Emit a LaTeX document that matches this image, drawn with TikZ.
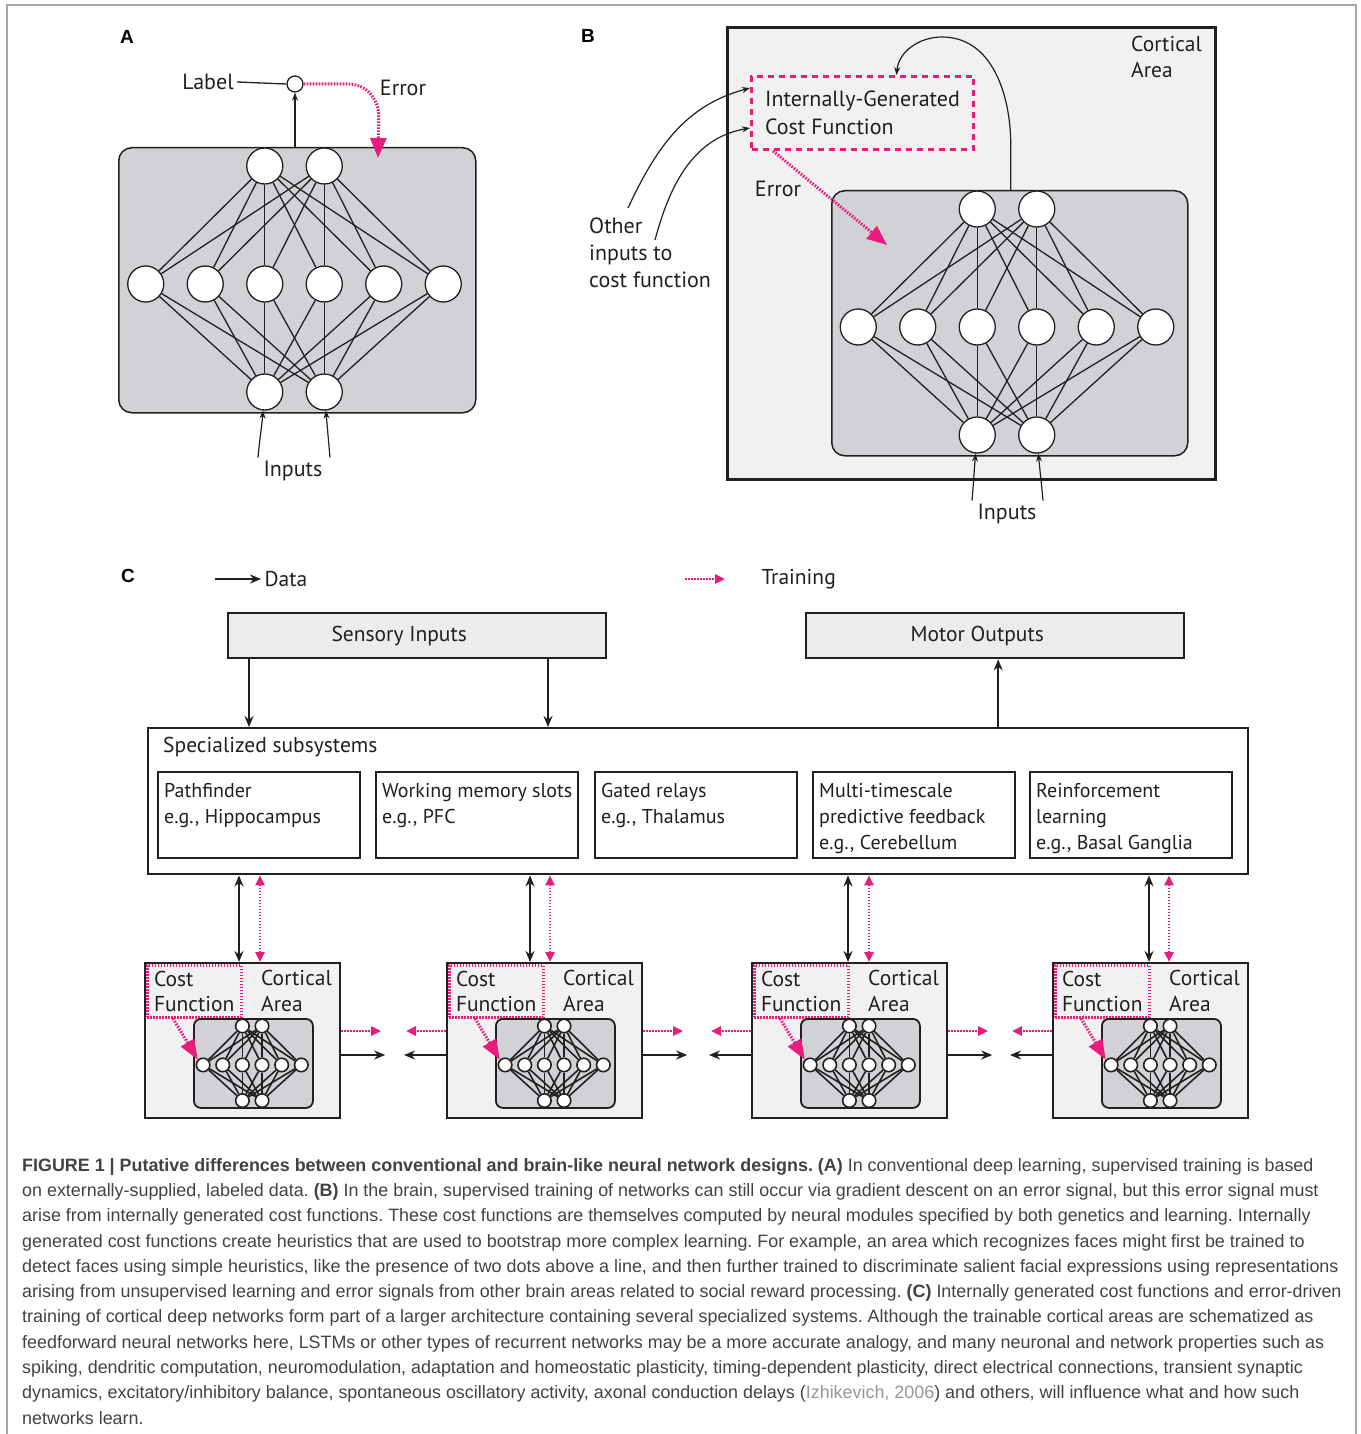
\documentclass[tikz,border=0pt]{standalone}
\usepackage{fontspec}
\setmainfont{PT Sans}
\newfontfamily\capfont{Liberation Sans}
\usetikzlibrary{arrows.meta,positioning}

\definecolor{errpink}{RGB}{232,28,122}
\definecolor{netgray}{RGB}{208,210,213}
\definecolor{areagray}{RGB}{241,241,242}
\definecolor{boxgray}{RGB}{236,236,236}
\definecolor{capgray}{RGB}{66,66,66}
\definecolor{refgray}{RGB}{150,150,150}
\definecolor{inkblack}{RGB}{35,31,32}

% feedforward net: name, x, y (top pair), scale, node size, line width
\newcommand{\netwk}[6]{%
  \foreach \i in {1,2}
    \node[neuron, minimum size=#5, line width=#6] (#1t\i) at ({#2+(\i-1.5)*59.5*#4},#3) {};
  \foreach \i in {1,...,6}
    \node[neuron, minimum size=#5, line width=#6] (#1m\i) at ({#2+(\i-3.5)*59.5*#4},{#3+118*#4}) {};
  \foreach \i in {1,2}
    \node[neuron, minimum size=#5, line width=#6] (#1b\i) at ({#2+(\i-1.5)*59.5*#4},{#3+226*#4}) {};
  \foreach \i in {1,2}
    \foreach \j in {1,...,6} {
      \draw[netline, line width=#6] (#1t\i) -- (#1m\j);
      \draw[netline, line width=#6] (#1m\j) -- (#1b\i);
    }
}

\begin{document}
\frenchspacing
\begin{tikzpicture}[x=1pt, y=-1pt, every node/.style={text=inkblack, font=\fontsize{22}{27}\selectfont}]
    \tikzstyle{neuron}=[circle, draw=inkblack, fill=white, inner sep=0pt]
    \tikzstyle{netline}=[draw=inkblack]
    \tikzstyle{netbox}=[rectangle, rounded corners=13pt, draw=inkblack, fill=netgray, line width=1.5pt]
    \tikzstyle{areabox}=[rectangle, draw=inkblack, fill=areagray]
    \tikzstyle{sysbox}=[rectangle, draw=inkblack, line width=2.4pt, font=\fontsize{21.5}{26}\selectfont]
    \tikzstyle{subtext}=[align=left, anchor=north west, inner sep=0pt, font=\fontsize{20}{26}\selectfont]
    \tikzstyle{smalltext}=[align=left, anchor=north west, inner sep=0pt, font=\fontsize{21.5}{25.5}\selectfont]
    \tikzstyle{costdash}=[rectangle, draw=errpink, line width=3pt, dash pattern=on 6pt off 5pt]
    \tikzstyle{costdot}=[rectangle, draw=errpink, line width=2.5pt, dash pattern=on 1.6pt off 1.4pt]
    \tikzstyle{errline}=[draw=errpink, line width=3pt, dash pattern=on 1.6pt off 1.4pt]
    \tikzstyle{dataarrow}=[draw=inkblack, line width=2pt, >={Stealth[length=11pt,width=9pt]}, ->]
    \tikzstyle{trainarrow}=[draw=errpink, line width=2.6pt, dash pattern=on 1.6pt off 1.4pt, >={Triangle[length=10pt,width=9pt]}, ->]
    \tikzstyle{thinarrow}=[draw=inkblack, line width=1.2pt, -{Stealth[length=8pt,width=6pt]}]
    \tikzstyle{panel}=[font=\capfont\bfseries\fontsize{19}{19}\selectfont, text=black]

    \useasboundingbox (0,0) rectangle (1360,1434);
    \draw[gray!70, line width=1.5pt] (7,1440) -- (7,5) -- (1356,5) -- (1356,1440);

    % A
    \node[panel] (la) at (127,37) {A};
    \node[netbox, minimum width=357, minimum height=265, anchor=north west] (boxA) at (118,147) {};
    \netwk{a-}{294.5}{166}{1}{36pt}{1.3pt}
    \node[neuron, minimum size=16pt, line width=1.3pt] (cmp) at (295,84) {};
    \node (lab) at (208,82) {Label};
    \draw[line width=1.3pt, inkblack] (lab.east) -- (cmp.west);
    \draw[thinarrow] (cmp |- boxA.north) -- (cmp.south);
    \node (errA) at (403,88) {Error};
    \coordinate (errtipA) at (378,158);
    \draw[errline, -{Triangle[length=20pt,width=16pt]}] (cmp.east) -- ++(45,0) to[out=0,in=90] ++(30,32) -- (errtipA);
    \node (inA) at (293,471) {Inputs};
    \draw[thinarrow] ([xshift=-35pt]inA.north) to[out=85,in=-95] (a-b1);
    \draw[thinarrow] ([xshift=37pt]inA.north) to[out=95,in=-85] (a-b2);

    % B
    \node[panel] (lb) at (588,36) {B};
    \node[areabox, line width=3pt, minimum width=488, minimum height=452, anchor=north west] (cortB) at (726,26) {};
    \node[align=left, anchor=north west, inner sep=0pt, font=\fontsize{21.5}{26}\selectfont] (ctxB) at (1131,36) {Cortical\\Area};
    \node[costdash, minimum width=222, minimum height=73, align=left, anchor=north west, font=\fontsize{22}{28}\selectfont] (cfB) at (750,75) {Internally-Generated\\Cost Function};
    \node[netbox, minimum width=356, minimum height=265, anchor=north west] (boxB) at (831,190) {};
    \netwk{b-}{1007}{209}{1}{36pt}{1.3pt}
    \node (errB) at (778,189) {Error};
    \coordinate (errtipB) at (887,245);
    \draw[errline, -{Triangle[length=20pt,width=16pt]}] ([xshift=23pt]cfB.south west) -- (errtipB);
    \draw[thinarrow] ([xshift=1pt]boxB.north) -- ++(0,-45) to[out=90,in=0] (942,37) to[out=180,in=85] ([xshift=34pt]cfB.north);
    \node[align=left, anchor=north west, inner sep=0pt] (oth) at (589,218) {Other\\inputs to\\cost function};
    \draw[thinarrow] ([shift={(39,-10)}]oth.north west) to[out=65,in=195] ([yshift=-13pt]cfB.north west);
    \draw[thinarrow] ([shift={(66,22)}]oth.north west) to[out=75,in=190] ([yshift=-53pt]cfB.north west);
    \node (inB) at (1007,514) {Inputs};
    \draw[thinarrow] ([xshift=-35pt]inB.north) to[out=85,in=-95] (b-b1);
    \draw[thinarrow] ([xshift=36pt]inB.north) to[out=95,in=-85] (b-b2);

    % C
    \node[panel] (lc) at (128,576) {C};
    \node[anchor=west, font=\fontsize{21.5}{26}\selectfont] (data) at (261,579) {Data};
    \draw[dataarrow] ([xshift=-46pt]data.west) -- (data.west);
    \node[anchor=west, font=\fontsize{21.5}{26}\selectfont] (train) at (758,579) {Training};
    \draw[trainarrow] ([xshift=-73pt]train.west) -- ([xshift=-33pt]train.west);

    \node[sysbox, fill=boxgray, minimum width=378, minimum height=45, anchor=north west] (sens) at (227,612) {Sensory Inputs\kern36pt};
    \node[sysbox, fill=boxgray, minimum width=378, minimum height=45, anchor=north west] (mot) at (805,612) {Motor Outputs\kern36pt};
    \node[sysbox, fill=white, minimum width=1100, minimum height=146, anchor=north west] (spec) at (147,727) {};
    \node[anchor=west, inner sep=0pt, font=\fontsize{21.5}{26}\selectfont] (spect) at (163,747) {Specialized subsystems};
    \foreach \n/\x/\t in {1/157/{Pathfinder\\e.g., Hippocampus},
                          2/375/{Working memory slots\\e.g., PFC},
                          3/594/{Gated relays\\e.g., Thalamus},
                          4/812/{Multi-timescale\\predictive feedback\\e.g., Cerebellum},
                          5/1029/{Reinforcement\\learning\\e.g., Basal Ganglia}} {
        \node[sysbox, minimum width=202, minimum height=86, anchor=north west] (sub\n) at (\x,771) {};
        \node[subtext] (subt\n) at ([shift={(7,12)}]sub\n.north west) {\t};
    }
    \path ([xshift=22pt]sens.south west) coordinate (sa) ([xshift=321pt]sens.south west) coordinate (sb) ([xshift=3pt]mot.south) coordinate (ma);
    \draw[dataarrow] (sa) -- (sa |- spec.north);
    \draw[dataarrow] (sb) -- (sb |- spec.north);
    \draw[dataarrow] (ma |- spec.north) -- (ma);

    \foreach \k/\x/\bx/\px in {1/144/95/116, 2/446/84/104, 3/751/97/118, 4/1052/97/117} {
        \node[areabox, line width=2.2pt, minimum width=195, minimum height=155, anchor=north west] (ca\k) at (\x,962) {};
        \node[costdot, minimum width=94, minimum height=52, align=left, anchor=north west, font=\fontsize{21.5}{25.5}\selectfont] (cf\k) at (\x+2,964) {Cost\\Function};
        \node[smalltext] (ct\k) at (\x+117,970) {Cortical\\Area};
        \node[netbox, rounded corners=7pt, line width=1.8pt, minimum width=119, minimum height=89, anchor=north west] (g\k) at (\x+49,1018) {};
        \netwk{c\k-}{\x+108.2}{1026}{0.33}{13.5pt}{1.6pt}
        \draw[errline, -{Triangle[length=20pt,width=15pt]}] ([xshift=27pt]cf\k.south west) -- (c\k-m1.north west);
        \path (\x+\bx,962) coordinate (d\k) (\x+\px,962) coordinate (t\k);
        \draw[dataarrow, <->] (d\k |- spec.south) -- (d\k);
        \draw[trainarrow, <->] (t\k |- spec.south) -- (t\k);
    }
    \foreach \k/\n in {1/2, 2/3, 3/4} {
        \draw[trainarrow] ([yshift=-69pt]ca\k.north east) -- ++(40,0);
        \draw[trainarrow] ([yshift=-69pt]ca\n.north west) -- ++(-40,0);
        \draw[dataarrow] ([yshift=-93pt]ca\k.north east) -- ++(44,0);
        \draw[dataarrow] ([yshift=-93pt]ca\n.north west) -- ++(-42,0);
    }

    \node[anchor=north west, inner sep=0pt, align=left, text=capgray, font=\capfont\fontsize{17.9}{25.3}\selectfont] (cap) at (22,1158) {%
        \textbf{FIGURE 1 | Putative differences between conventional and brain-like neural network designs. (A)} In conventional deep learning, supervised training is based\\
        on externally-supplied, labeled data. \textbf{(B)} In the brain, supervised training of networks can still occur via gradient descent on an error signal, but this error signal must\\
        arise from internally generated cost functions. These cost functions are themselves computed by neural modules specified by both genetics and learning. Internally\\
        generated cost functions create heuristics that are used to bootstrap more complex learning. For example, an area which recognizes faces might first be trained to\\
        detect faces using simple heuristics, like the presence of two dots above a line, and then further trained to discriminate salient facial expressions using representations\\
        arising from unsupervised learning and error signals from other brain areas related to social reward processing. \textbf{(C)} Internally generated cost functions and error-driven\\
        training of cortical deep networks form part of a larger architecture containing several specialized systems. Although the trainable cortical areas are schematized as\\
        feedforward neural networks here, LSTMs or other types of recurrent networks may be a more accurate analogy, and many neuronal and network properties such as\\
        spiking, dendritic computation, neuromodulation, adaptation and homeostatic plasticity, timing-dependent plasticity, direct electrical connections, transient synaptic\\
        dynamics, excitatory/inhibitory balance, spontaneous oscillatory activity, axonal conduction delays (\textcolor{refgray}{Izhikevich, 2006}) and others, will influence what and how such\\
        networks learn.};
\end{tikzpicture}
\end{document}
